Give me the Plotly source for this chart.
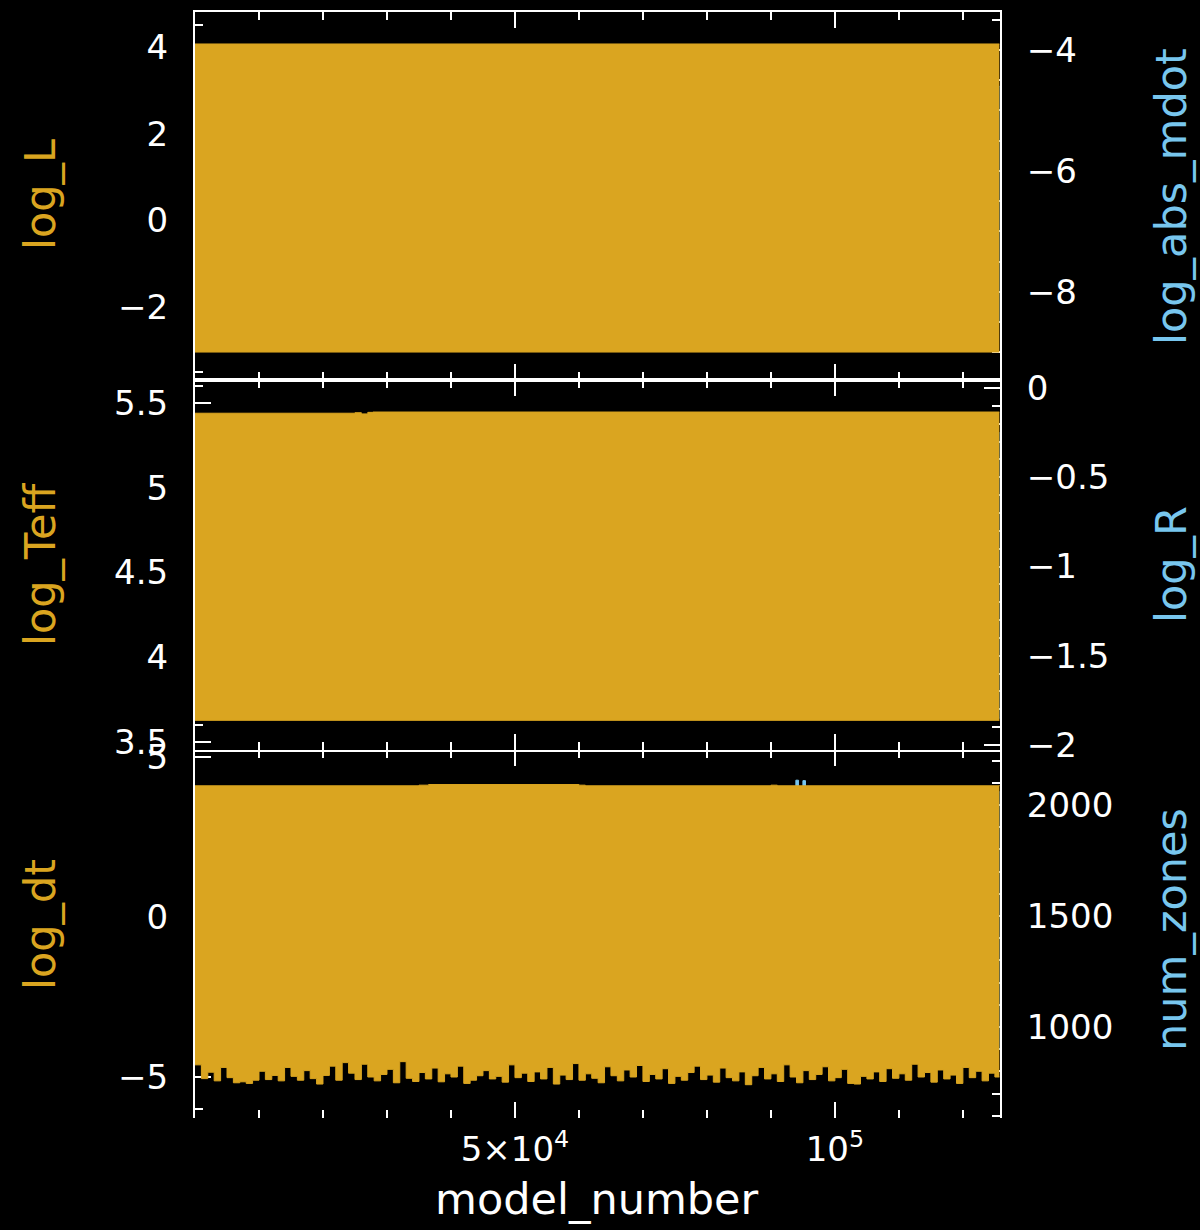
import plotly.graph_objects as go

# ---- history columns (envelopes of the rapidly varying tracks) ----
GOLD = "#DAA520"
BLUE = "#78C6EE"

# panel 1: log_L (left) and log_abs_mdot (right)
L_model = [0, 125700]
log_L_high = [4.07, 4.07]
log_L_low = [-3.04, -3.04]
mdot_model = [0, 125700]
log_abs_mdot_high = [-4.6, -4.6]
log_abs_mdot_low = [-8.5, -8.5]

# panel 2: log_Teff (left) and log_R (right)
Teff_model = [0, 25000, 26000, 27000, 27800, 125700]
log_Teff_high = [5.440, 5.443, 5.436, 5.445, 5.447, 5.447]
log_Teff_low = [3.628, 3.628]
Teff_low_model = [0, 125700]
R_model = [0, 125700]
log_R_high = [-0.25, -0.25]
log_R_low = [-1.85, -1.85]

# panel 3: log_dt (left) and num_zones (right)
dt_top_model = [0, 35000, 36500, 60000, 61000, 90000, 91000, 125700]
log_dt_high = [4.10, 4.12, 4.14, 4.12, 4.10, 4.12, 4.10, 4.12]
dt_model_step = 1000
log_dt_low = [
    -4.62, -5.05, -4.85, -5.12, -4.70, -5.02, -5.18, -5.15, -5.20, -5.10,
    -4.82, -5.08, -4.95, -5.12, -4.70, -4.98, -5.10, -4.80, -5.05, -5.22,
    -4.95, -4.66, -5.10, -4.55, -4.88, -5.08, -4.60, -5.00, -5.12, -4.92,
    -4.76, -5.18, -4.52, -5.04, -5.14, -4.86, -5.06, -4.72, -5.15, -4.90,
    -5.00, -4.66, -5.20, -5.10, -4.96, -4.80, -5.06, -4.98, -5.16, -4.62,
    -5.02, -4.88, -5.14, -4.84, -5.06, -4.70, -5.22, -4.94, -5.08, -4.58,
    -5.10, -4.90, -5.04, -5.18, -4.68, -4.96, -5.12, -4.78, -5.00, -4.64,
    -5.14, -4.92, -5.06, -4.74, -5.20, -4.98, -5.10, -4.86, -4.66, -5.08,
    -4.94, -5.16, -4.72, -5.02, -5.12, -4.84, -5.24, -4.96, -4.70, -5.06,
    -4.90, -5.14, -4.62, -5.00, -5.18, -4.80, -5.08, -4.92, -4.68, -5.12,
    -5.02, -4.76, -5.20, -5.22, -4.98, -5.06, -4.84, -5.14, -4.74, -5.04,
    -4.90, -5.10, -4.60, -5.00, -4.86, -5.16, -4.78, -5.06, -4.94, -5.20,
    -4.70, -5.02, -4.82, -5.12, -4.88, -5.00,
]
last_model = 125700
zones_model = [0, 93900, 94300, 95000, 95400, 125700]
num_zones_high = [2060, 2112, 2060, 2110, 2060, 2060]
num_zones_low = [900, 900]
zones_low_model = [0, 125700]

# x-axis tick labels
x_major = [50000, 100000]
x_major_text = ["5×10<sup>4</sup>", "10<sup>5</sup>"]
x_minor = [10000 * i for i in range(1, 13) if i not in (5, 10)]

dt_model = [dt_model_step * i for i in range(len(log_dt_low))] + [last_model]
log_dt_low_ext = log_dt_low + [log_dt_low[-1]]

FONT = "DejaVu Sans"
X_RANGE = [0, 125800]


def band(fig, x_hi, y_hi, x_lo, y_lo, color, xa, ya):
    fig.add_trace(go.Scatter(x=x_hi, y=y_hi, mode="lines", line=dict(color=color, width=1, shape="hv"),
                             xaxis=xa, yaxis=ya, showlegend=False, hoverinfo="skip"))
    fig.add_trace(go.Scatter(x=x_lo, y=y_lo, mode="lines", line=dict(color=color, width=1, shape="hv"),
                             fill="tonexty", fillcolor=color,
                             xaxis=xa, yaxis=ya, showlegend=False, hoverinfo="skip"))


fig = go.Figure()
# right-hand columns first (they sit underneath)
band(fig, mdot_model, log_abs_mdot_high, mdot_model, log_abs_mdot_low, BLUE, "x", "y")
band(fig, L_model, log_L_high, L_model, log_L_low, GOLD, "x", "y2")
band(fig, R_model, log_R_high, R_model, log_R_low, BLUE, "x2", "y3")
band(fig, Teff_model, log_Teff_high, Teff_low_model, log_Teff_low, GOLD, "x2", "y4")
band(fig, zones_model, num_zones_high, zones_low_model, num_zones_low, BLUE, "x3", "y5")
band(fig, dt_top_model, log_dt_high, dt_model, log_dt_low_ext, GOLD, "x3", "y6")

H = 1230.0
W = 1200.0
x_dom = [195 / W, 1000 / W]
frames = [(12, 380), (380, 750), (750, 1118)]
doms = [[1 - b / H, 1 - t / H] for t, b in frames]

tickfont = dict(family=FONT, size=34, color="white")


def xaxis(dom_y_anchor, labels, line=True):
    d = dict(domain=x_dom, range=X_RANGE, anchor=dom_y_anchor, showline=line, linecolor="white",
             linewidth=2, mirror="ticks", ticks="inside", ticklen=16, tickwidth=2, tickcolor="white",
             tickmode="array", tickvals=x_major, ticktext=x_major_text, showgrid=False, zeroline=False,
             layer="below traces", showticklabels=labels, tickfont=tickfont, ticklabelstandoff=8,
             automargin=False,
             minor=dict(tickmode="array", tickvals=x_minor, ticks="inside", ticklen=8, tickwidth=2,
                        tickcolor="white", showgrid=False))
    return d


def yaxis(dom, rng, side, anchor, dtick, mdtick, overlay=None, fmt=None):
    d = dict(range=rng, side=side, anchor=anchor, showline=True, linecolor="white", linewidth=2,
             ticks="inside", ticklen=16, tickwidth=2, tickcolor="white", dtick=dtick, tick0=0,
             showgrid=False, zeroline=False, layer="below traces", tickfont=tickfont,
             ticklabelstandoff=18, automargin=False,
             minor=dict(dtick=mdtick, tick0=0, ticks="inside", ticklen=8, tickwidth=2,
                        tickcolor="white", showgrid=False))
    if overlay:
        d["overlaying"] = overlay
    else:
        d["domain"] = dom
    if fmt:
        d["tickformat"] = fmt
    return d


fig.update_layout(
    width=1200, height=1230, margin=dict(l=0, r=0, t=0, b=0, pad=0, autoexpand=False),
    paper_bgcolor="black", plot_bgcolor="black", showlegend=False,
    font=dict(family=FONT, color="white"),
    xaxis=xaxis("y", False),
    xaxis2=xaxis("y3", False),
    xaxis3=xaxis("y5", True, line=False),
    yaxis=yaxis(doms[0], [-9.455, -3.372], "right", "x", 2, 0.5),
    yaxis2=yaxis(None, [-3.685, 4.808], "left", "x", 2, 0.5, overlay="y"),
    yaxis3=yaxis(doms[1], [-2.028, 0.045], "right", "x2", 0.5, 0.1),
    yaxis4=yaxis(None, [3.453, 5.636], "left", "x2", 0.5, 0.1, overlay="y3"),
    yaxis5=yaxis(doms[2], [590, 2248], "right", "x3", 500, 100, fmt="d"),
    yaxis6=yaxis(None, [-6.281, 5.219], "left", "x3", 5, 1, overlay="y5"),
)

titles = [
    ("log_L", 40, 195, GOLD), ("log_abs_mdot", 1171, 197, BLUE),
    ("log_Teff", 40, 565, GOLD), ("log_R", 1171, 565, BLUE),
    ("log_dt", 40, 925, GOLD), ("num_zones", 1171, 930, BLUE),
]
for text, px, py, col in titles:
    fig.add_annotation(text=text, x=px / W, y=1 - py / H, xref="paper", yref="paper",
                       textangle=-90, showarrow=False, xanchor="center", yanchor="middle",
                       font=dict(family=FONT, size=43, color=col))
fig.add_annotation(text="model_number", x=597 / W, y=1 - 1199 / H, xref="paper", yref="paper",
                   showarrow=False, xanchor="center", yanchor="middle",
                   font=dict(family=FONT, size=43, color="white"))

fig.write_html("out.html")
